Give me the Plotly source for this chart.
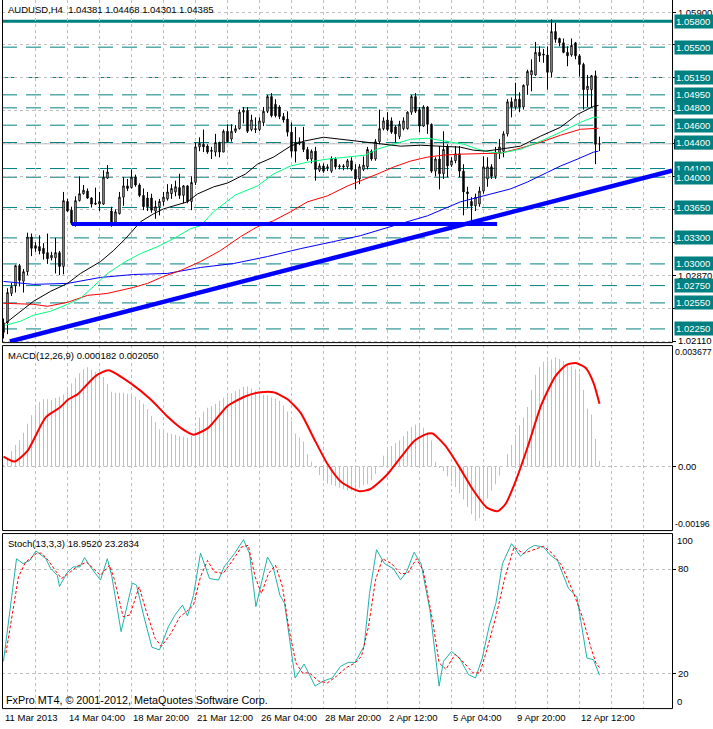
import plotly.graph_objects as go

W, H = 713, 729
FONT = "Liberation Sans"

# ---------------- data ----------------
bars = list(range(150))
opens = [1.0232,1.0232,1.0266,1.0275,1.0298,1.0280,1.0291,1.0331,1.0321,1.0320,
         1.0318,1.0313,1.0307,1.0307,1.0313,1.0297,1.0372,1.0362,1.0346,1.0373,
         1.0381,1.0384,1.0376,1.0370,1.0369,1.0369,1.0399,1.0361,1.0348,1.0358,
         1.0377,1.0390,1.0388,1.0400,1.0391,1.0379,1.0376,1.0376,1.0361,1.0366,
         1.0372,1.0375,1.0381,1.0383,1.0388,1.0379,1.0390,1.0372,1.0394,1.0435,
         1.0438,1.0436,1.0431,1.0429,1.0440,1.0429,1.0453,1.0444,1.0453,1.0456,
         1.0475,1.0477,1.0455,1.0456,1.0455,1.0463,1.0476,1.0493,1.0484,1.0481,
         1.0470,1.0467,1.0452,1.0440,1.0439,1.0440,1.0432,1.0421,1.0430,1.0408,
         1.0413,1.0412,1.0407,1.0421,1.0412,1.0413,1.0412,1.0419,1.0409,1.0398,
         1.0409,1.0412,1.0430,1.0421,1.0441,1.0456,1.0466,1.0465,1.0458,1.0447,
         1.0456,1.0456,1.0475,1.0493,1.0478,1.0459,1.0481,1.0461,1.0407,1.0421,
         1.0404,1.0435,1.0414,1.0419,1.0427,1.0407,1.0383,1.0372,1.0367,1.0369,
         1.0384,1.0398,1.0412,1.0401,1.0428,1.0430,1.0450,1.0487,1.0481,1.0490,
         1.0481,1.0506,1.0518,1.0518,1.0544,1.0542,1.0541,1.0521,1.0568,1.0560,
         1.0555,1.0544,1.0541,1.0555,1.0540,1.0530,1.0501,1.0501,1.0517,1.04381]
highs = [1.0237,1.0272,1.0278,1.0299,1.0300,1.0294,1.0336,1.0335,1.0325,1.0333,
         1.0324,1.0335,1.0314,1.0330,1.0315,1.0383,1.0375,1.0366,1.0378,1.0401,
         1.0391,1.0387,1.0377,1.0388,1.0383,1.0408,1.0414,1.0366,1.0363,1.0383,
         1.0400,1.0398,1.0409,1.0403,1.0393,1.0387,1.0383,1.0381,1.0373,1.0375,
         1.0383,1.0392,1.0392,1.0396,1.0404,1.0391,1.0391,1.0401,1.0440,1.0446,
         1.0455,1.0438,1.0435,1.0450,1.0441,1.0455,1.0461,1.0461,1.0460,1.0478,
         1.0481,1.0481,1.0472,1.0469,1.0469,1.0481,1.0495,1.0497,1.0490,1.0483,
         1.0474,1.0476,1.0463,1.0458,1.0446,1.0458,1.0435,1.0432,1.0435,1.0416,
         1.0416,1.0415,1.0424,1.0423,1.0415,1.0415,1.0421,1.0423,1.0415,1.0415,
         1.0424,1.0435,1.0432,1.0444,1.0478,1.0469,1.0475,1.0469,1.0460,1.0465,
         1.0469,1.0476,1.0495,1.0497,1.0481,1.0483,1.0482,1.0462,1.0423,1.0436,
         1.0453,1.0438,1.0423,1.0436,1.0436,1.0415,1.0389,1.0377,1.0381,1.0389,
         1.0424,1.0423,1.0415,1.0435,1.0444,1.0453,1.0490,1.0492,1.0509,1.0498,
         1.0507,1.0524,1.0536,1.0556,1.0551,1.0548,1.0551,1.0582,1.0578,1.0561,
         1.0560,1.0551,1.0560,1.0556,1.0542,1.0532,1.0518,1.0518,1.0523,1.04468]
lows = [1.0214,1.0219,1.0263,1.0267,1.0274,1.0267,1.0287,1.0309,1.0314,1.0311,
        1.0305,1.0300,1.0304,1.0289,1.0287,1.0288,1.0360,1.0345,1.0343,1.0372,
        1.0380,1.0375,1.0365,1.0368,1.0361,1.0368,1.0398,1.0343,1.0345,1.0357,
        1.0367,1.0384,1.0387,1.0389,1.0377,1.0362,1.0361,1.0359,1.0352,1.0356,
        1.0367,1.0373,1.0375,1.0378,1.0375,1.0370,1.0370,1.0362,1.0391,1.0430,
        1.0429,1.0427,1.0421,1.0424,1.0423,1.0429,1.0440,1.0441,1.0451,1.0455,
        1.0462,1.0451,1.0453,1.0451,1.0453,1.0459,1.0474,1.0469,1.0469,1.0467,
        1.0463,1.0447,1.0423,1.0417,1.0437,1.0429,1.0419,1.0416,1.0396,1.0406,
        1.0405,1.0407,1.0405,1.0409,1.0409,1.0408,1.0409,1.0407,1.0386,1.0392,
        1.0407,1.0409,1.0419,1.0419,1.0438,1.0454,1.0453,1.0450,1.0440,1.0444,
        1.0454,1.0455,1.0472,1.0474,1.0452,1.0458,1.0450,1.0405,1.0401,1.0386,
        1.0398,1.0400,1.0412,1.0416,1.0400,1.0356,1.0364,1.0349,1.0361,1.0366,
        1.0381,1.0389,1.0398,1.0398,1.0421,1.0423,1.0447,1.0469,1.0478,1.0475,
        1.0478,1.0495,1.0499,1.0517,1.0533,1.0532,1.0501,1.0515,1.0555,1.0551,
        1.0543,1.0528,1.0539,1.0536,1.0516,1.0478,1.0481,1.0481,1.0415,1.04301]
closes = [1.0221,1.0267,1.0274,1.0298,1.0281,1.0291,1.0331,1.0318,1.0318,1.0315,
          1.0312,1.0306,1.0310,1.0313,1.0297,1.0373,1.0361,1.0347,1.0373,1.0381,
          1.0385,1.0376,1.0369,1.0369,1.0372,1.0400,1.0406,1.0345,1.0360,1.0377,
          1.0390,1.0387,1.0400,1.0391,1.0379,1.0366,1.0366,1.0362,1.0366,1.0372,
          1.0377,1.0383,1.0387,1.0389,1.0379,1.0390,1.0372,1.0394,1.0435,1.0439,
          1.0435,1.0429,1.0430,1.0440,1.0429,1.0453,1.0441,1.0453,1.0456,1.0475,
          1.0477,1.0453,1.0466,1.0455,1.0465,1.0476,1.0493,1.0471,1.0471,1.0470,
          1.0466,1.0452,1.0430,1.0430,1.0441,1.0432,1.0421,1.0430,1.0409,1.0413,
          1.0407,1.0411,1.0421,1.0412,1.0413,1.0412,1.0419,1.0409,1.0398,1.0412,
          1.0414,1.0432,1.0421,1.0441,1.0456,1.0465,1.0455,1.0452,1.0450,1.0461,
          1.0465,1.0475,1.0493,1.0476,1.0459,1.0481,1.0461,1.0407,1.0421,1.0404,
          1.0432,1.0413,1.0419,1.0427,1.0407,1.0383,1.0381,1.0367,1.0377,1.0384,
          1.0412,1.0412,1.0401,1.0429,1.0435,1.0450,1.0487,1.0481,1.0490,1.0481,
          1.0506,1.0522,1.0523,1.0544,1.0540,1.0541,1.0521,1.0568,1.0559,1.0555,
          1.0544,1.0540,1.0552,1.0540,1.0530,1.0501,1.0505,1.0517,1.0438,1.04385]

ma_black_idx = [0.5,4.25,7.5,11.75,16,19.25,24.25,27.5,30.5,34.25,37.5,40,46,48.5,52.5,56,60.5,63.5,67.5,71.75,
                75,80,84.25,88.5,94.25,99.25,104.25,109.25,114.25,117.5,120.5,124.25,129.25,134.25,139.25,143.5,147.5,148.75]
ma_black_val = [1.02316,1.02454,1.02569,1.02683,1.02775,1.02890,1.03027,1.03154,1.03291,1.03486,1.03578,1.03635,
                1.03716,1.03807,1.03888,1.03933,1.04037,1.04151,1.04232,1.04358,1.04415,1.04461,1.04438,1.04415,
                1.04381,1.04358,1.04369,1.04358,1.04346,1.04312,1.04301,1.04324,1.04358,1.04473,1.04576,1.04725,
                1.04817,1.04828]
ma_green_idx = [0.5,4.25,7.5,11.75,16,19.25,22.5,26,30.5,34.25,38.5,42.5,46.75,49.25,52.5,58,63.5,67.5,71.75,76,
                81,86,90.5,93.5,97.5,101.75,106,111,115,118.5,121.75,124.25,129.25,134.25,139.25,144.25,147.5,148.75]
ma_green_val = [1.02293,1.02339,1.02408,1.02454,1.02534,1.02603,1.02740,1.02890,1.03027,1.03119,1.03199,1.03291,
                1.03406,1.03440,1.03601,1.03796,1.03899,1.04037,1.04129,1.04174,1.04209,1.04232,1.04255,1.04324,
                1.04381,1.04438,1.04450,1.04415,1.04381,1.04324,1.04289,1.04278,1.04324,1.04415,1.04519,1.04633,
                1.04691,1.04691]
ma_red_idx = [0,7.5,11,16,21,26,32.5,36,40,44.25,49.25,54.25,59.25,63.5,67.5,71.75,76,81,86,89.25,93.5,97.5,
              101.75,106,110,114.25,120.5,124.25,129.25,134.25,139.25,144.25,148.75]
ma_red_val = [1.02546,1.02534,1.02511,1.02557,1.02637,1.02660,1.02729,1.02775,1.02855,1.02924,1.03027,1.03154,
              1.03314,1.03429,1.03498,1.03601,1.03716,1.03785,1.03899,1.03956,1.04037,1.04117,1.04186,1.04232,
              1.04255,1.04266,1.04278,1.04278,1.04335,1.04404,1.04484,1.04553,1.04564]
ma_blue_idx = [0,7.5,16,24.25,32.5,41,49.25,57.5,66,74.25,82.5,89.25,97.5,106,114.25,122.5,126.75,131,135,139.25,
               143.5,147.5,148.75]
ma_blue_val = [1.02798,1.02764,1.02775,1.02844,1.02878,1.02890,1.02959,1.03004,1.03085,1.03176,1.03257,1.03326,
               1.03440,1.03555,1.03716,1.03819,1.03865,1.03945,1.04037,1.04129,1.04209,1.04289,1.04301]

trend_x = [1.6, 167.12]
trend_y = [1.02106, 1.04075]
support_x = [17.1, 123.4]
support_y = [1.0346, 1.0346]

level_vals = [1.0580,1.0550,1.0515,1.0495,1.0480,1.0460,1.0440,1.0410,1.0400,1.0365,1.0330,1.0300,1.0275,1.0255,1.0225]
level_text = ["1.05800","1.05500","1.05150","1.04950","1.04800","1.04600","1.04400","1.04100","1.04000",
              "1.03650","1.03300","1.03000","1.02750","1.02550","1.02250"]
bid_price = 1.04385

price_ticks = [1.0211,1.0249,1.0287,1.0325,1.0363,1.0401,1.0439,1.0477,1.0515,1.0553,1.0590]
# labels that sit under a level box are hidden in the original, so they are left blank here
price_tick_text = ["1.02110","","1.02870","","","","","","","","1.05900"]

macd_hist = [0.00003,0.00025,0.00050,0.00070,0.00085,0.00110,0.00140,0.00168,0.00190,0.00212,
             0.00220,0.00220,0.00218,0.00224,0.00228,0.00236,0.00252,0.00272,0.00290,0.00305,
             0.00318,0.00325,0.00317,0.00310,0.00303,0.00293,0.00270,0.00245,0.00241,0.00241,
             0.00241,0.00238,0.00240,0.00228,0.00218,0.00205,0.00188,0.00165,0.00145,0.00122,
             0.00115,0.00110,0.00107,0.00104,0.00100,0.00097,0.00094,0.00100,0.00125,0.00160,
             0.00180,0.00192,0.00198,0.00205,0.00215,0.00225,0.00230,0.00240,0.00247,0.00253,
             0.00260,0.00262,0.00255,0.00248,0.00241,0.00235,0.00232,0.00226,0.00222,0.00215,
             0.00200,0.00180,0.00150,0.00108,0.00095,0.00082,0.00040,0.00015,-0.00005,-0.00028,
             -0.00047,-0.00057,-0.00060,-0.00064,-0.00070,-0.00075,-0.00079,-0.00080,-0.00079,-0.00070,
             -0.00062,-0.00058,-0.00045,-0.00025,-0.00002,0.00035,0.00055,0.00067,0.00077,0.00086,
             0.00100,0.00115,0.00130,0.00137,0.00135,0.00127,0.00112,0.00085,0.00015,-0.00005,
             -0.00015,-0.00032,-0.00050,-0.00068,-0.00088,-0.00108,-0.00133,-0.00157,-0.00178,-0.00170,
             -0.00130,-0.00105,-0.00080,-0.00058,-0.00030,0.00000,0.00040,0.00070,0.00105,0.00135,
             0.00160,0.00195,0.00250,0.00300,0.00325,0.00343,0.00347,0.00350,0.00358,0.00352,
             0.00345,0.00335,0.00327,0.00318,0.00305,0.00250,0.00190,0.00170,0.00090,0.000182]
macd_sig_idx = [0,2.75,6,10.5,14,16.25,18.5,23,26.25,32.25,36.75,41.25,44.75,47.5,51.25,56,60.5,64.25,67.5,71,
                74.25,77.5,81,84.5,89,91.75,95.75,99.25,102.75,105.5,107.25,110.5,114,117.5,120.75,123.5,
                125.5,127.75,131,134.5,138,140.75,143,145.5,147.5,149]
macd_sig_val = [0.00032,0.00016,0.00051,0.00160,0.00192,0.00220,0.00236,0.00296,0.00315,0.00268,0.00220,0.00160,
                0.00122,0.00104,0.00127,0.00198,0.00230,0.00243,0.00243,0.00220,0.00176,0.00094,0.00008,
                -0.00052,-0.00081,-0.00074,-0.00029,0.00029,0.00084,0.00105,0.00108,0.00067,-0.00003,
                -0.00079,-0.00134,-0.00147,-0.00123,-0.00058,0.00062,0.00203,0.00296,0.00333,0.00339,
                0.00323,0.00274,0.00205]

stoch_idx = [0,3.25,4.9,6.6,8.1,10.6,11.75,13.45,14,15.75,17.4,19.1,20.25,22,24.25,25.95,27.1,29.4,32.2,33.25,
             35,37.1,39,41.25,43,44.75,46,47.5,49.25,51.5,53.75,55.15,57.75,60,61.5,63.1,66,67.4,69.1,70.25,
             72.9,75.15,77.9,79.9,82.2,84.25,86.2,87.9,90.15,91.5,93.25,95.25,97.5,99.25,100.75,102.65,104.4,
             106.6,108.9,110,112,114,116.25,118,119.7,121.4,123.1,124.75,127,129.25,131.25,132.75,135,136.75,
             138.5,141.25,143.35,145.85,147.5,149]
stoch_val = [26.9,86,83.2,85,90.5,86,80.5,76.5,70,77.5,81.3,81.3,86.7,80.5,73.7,86,75.6,44,72,70.8,
             53.6,35,33.5,47,54,59.3,53,65,89.3,74.6,73.7,81.3,89,97,89,58.4,87,81.3,65,60.3,
             17.3,25.3,12.6,15.5,17.3,24,26.3,26.3,35.6,65.9,91.2,83.2,80.2,73.9,78.3,89.7,83,
             56.5,12.6,26.9,32.6,28.8,19.2,17.3,28.8,47,60.3,83.2,94.7,87.4,91.8,93.7,92.7,88,
             85,68.9,64.1,28.8,27.8,18.95]
stoch_sig_idx = [0.6,3.75,5.5,8.25,9.5,11.2,12.9,14.5,16.25,18.5,20.75,22.5,24.25,26.5,27.65,29.9,31.6,33.9,35.6,
                 37.9,39.5,41.9,44.1,45.75,47.5,49.25,51,52.65,54.9,57.25,59.5,61.2,62.9,64.5,66.25,68,69.75,
                 71.4,73.1,74.75,76.5,78.75,81,83.25,85.6,87.9,89.5,91.25,93,94.75,97,99.25,101,103.25,104.9,
                 107.25,108.9,110.6,112.9,115.15,117.4,119.1,120.85,123.1,125.4,127.65,129.9,132.2,135,137.25,
                 139.5,142.4,144.7,147,148.1,149]
stoch_sig_val = [31.6,75.6,84,89,89.3,85,79.4,74.6,77.5,81.7,84,80.5,76.5,82.3,74.6,52.6,53.6,69.8,56.5,
                 40.2,35.5,43.1,52.6,55.5,59.3,75.6,85,78.5,77.5,85,92.8,93.7,75.6,66,77.5,82.3,69.8,
                 45,26,20.2,20.2,15.5,14.5,18.3,23.1,26,29.8,46.9,73.7,86,83.2,77.5,77.5,86,79.4,
                 50.7,26,22.3,30.9,26,20.2,20.2,33.6,52.6,75.6,92.8,89,90.9,93.2,89,82.3,67,
                 52.6,33.6,26,23.28]

date_tick_pos = [0, 16, 32, 48, 64, 80, 96, 112, 128, 144]
date_tick_text = ["11 Mar 2013", "14 Mar 04:00", "18 Mar 20:00", "21 Mar 12:00", "26 Mar 04:00",
                  "28 Mar 20:00", "2 Apr 12:00", "5 Apr 04:00", "9 Apr 20:00", "12 Apr 12:00"]

title_main = "AUDUSD,H4  1.04381 1.04468 1.04301 1.04385"
title_macd = "MACD(12,26,9) 0.000182 0.002050"
title_stoch = "Stoch(13,3,3) 18.9520 23.2834"
footer = "FxPro MT4, \u00a9 2001-2012, MetaQuotes Software Corp."

# ---------------- layout helpers ----------------
def fy(px):
    return 1 - px / H

def fx(px):
    return px / W

TEAL = "#008080"
GRID = "#C0C0C0"
XR = [-0.375, 167.125]
grid_x = list(range(8, 161, 8))

fig = go.Figure()

fig.add_trace(go.Candlestick(
    x=bars, open=opens, high=highs, low=lows, close=closes,
    increasing=dict(line=dict(color="black", width=1), fillcolor="white"),
    decreasing=dict(line=dict(color="black", width=1), fillcolor="black"),
    whiskerwidth=0, xaxis="x", yaxis="y", hoverinfo="skip"))

for xs, ys, col in [(ma_blue_idx, ma_blue_val, "#0000FF"), (ma_red_idx, ma_red_val, "#FF0000"),
                    (ma_green_idx, ma_green_val, "#00FF7F"), (ma_black_idx, ma_black_val, "#000000")]:
    fig.add_trace(go.Scatter(x=xs, y=ys, mode="lines", line=dict(color=col, width=1),
                             xaxis="x", yaxis="y", hoverinfo="skip"))

fig.add_trace(go.Scatter(x=trend_x, y=trend_y, mode="lines", line=dict(color="#0000FF", width=4.5),
                         xaxis="x", yaxis="y", hoverinfo="skip"))
fig.add_trace(go.Scatter(x=support_x, y=support_y, mode="lines", line=dict(color="#0000FF", width=4),
                         xaxis="x", yaxis="y", hoverinfo="skip"))

fig.add_trace(go.Bar(x=bars, y=macd_hist, width=0.25, marker=dict(color=GRID, line=dict(width=0)),
                     xaxis="x2", yaxis="y2", hoverinfo="skip"))
fig.add_trace(go.Scatter(x=macd_sig_idx, y=macd_sig_val, mode="lines",
                         line=dict(color="#FF0000", width=2, shape="spline", smoothing=0.6),
                         xaxis="x2", yaxis="y2", hoverinfo="skip"))

fig.add_trace(go.Scatter(x=stoch_idx, y=stoch_val, mode="lines", line=dict(color="#20B2AA", width=1),
                         xaxis="x3", yaxis="y3", hoverinfo="skip"))
fig.add_trace(go.Scatter(x=stoch_sig_idx, y=stoch_sig_val, mode="lines",
                         line=dict(color="#FF0000", width=1, dash="3px,2px"),
                         xaxis="x3", yaxis="y3", hoverinfo="skip"))

tickfont = dict(family=FONT, size=9.5, color="black")
xcommon = dict(domain=[fx(2), fx(672)], range=XR, showticklabels=False, ticks="", tickvals=grid_x,
               showgrid=True, gridcolor=GRID, griddash="3px,3px", gridwidth=1, zeroline=False,
               showline=False, fixedrange=True)
ycommon = dict(side="right", ticks="outside", ticklen=3, tickcolor="black", tickfont=tickfont,
               gridcolor=GRID, griddash="3px,3px", gridwidth=1, zeroline=False, showline=False,
               fixedrange=True)

fig.update_layout(
    width=W, height=H, autosize=False, showlegend=False,
    margin=dict(l=0, r=0, t=0, b=0, pad=0),
    paper_bgcolor="white", plot_bgcolor="white", boxgap=0.5,
    xaxis=dict(**xcommon, anchor="y", rangeslider=dict(visible=False)),
    xaxis2=dict(**xcommon, anchor="y2"),
    xaxis3=dict(**xcommon, anchor="y3"),
    yaxis=dict(**ycommon, domain=[fy(344), fy(0)], range=[1.02098, 1.06044], anchor="x",
               tickvals=price_ticks, ticktext=price_tick_text, showgrid=True),
    yaxis2=dict(**ycommon, domain=[fy(533), fy(347)], range=[-0.002085, 0.003975], anchor="x2",
                tickvals=[0], ticktext=["0.00"], showgrid=True),
    yaxis3=dict(**ycommon, domain=[fy(712), fy(536)], range=[-0.06, 100.8], anchor="x3",
                tickvals=[20, 80], ticktext=["20", "80"], showgrid=True),
)

shapes = []
for v in level_vals:
    solid = v == level_vals[0]
    shapes.append(dict(type="line", xref="x", yref="y", x0=XR[0], x1=XR[1], y0=v, y1=v, layer="below",
                       line=dict(color=TEAL, width=3 if solid else 1, dash="solid" if solid else "15px,9px")))
shapes.append(dict(type="line", xref="x", yref="y", x0=XR[0], x1=XR[1], y0=bid_price, y1=bid_price,
                   layer="below", line=dict(color=GRID, width=1)))
# current-price (bid) marker: black tag almost covered by the 1.04400 tag
shapes.append(dict(type="rect", xref="paper", yref="paper", x0=fx(674), x1=fx(713), y0=fy(150), y1=fy(140),
                   line=dict(width=0), fillcolor="black", layer="above"))

def frame(top, bottom, with_top=True):
    out = [dict(type="line", xref="paper", yref="paper", x0=fx(2.5), x1=fx(2.5), y0=fy(top), y1=fy(bottom)),
           dict(type="line", xref="paper", yref="paper", x0=fx(672.5), x1=fx(672.5), y0=fy(top), y1=fy(bottom)),
           dict(type="line", xref="paper", yref="paper", x0=fx(2.5), x1=fx(672.5), y0=fy(bottom), y1=fy(bottom))]
    if with_top:
        out.append(dict(type="line", xref="paper", yref="paper", x0=fx(2.5), x1=fx(672.5), y0=fy(top), y1=fy(top)))
    for s in out:
        s["line"] = dict(color="black", width=1)
        s["layer"] = "above"
    return out
shapes += frame(0, 344.5, with_top=False)
shapes += frame(347.5, 533.5)
shapes += frame(536.5, 712.5)
fig.update_layout(shapes=shapes)

ann = []
for v, t in zip(level_vals, level_text):
    ann.append(dict(xref="paper", yref="y", x=fx(674), y=v, xanchor="left", yanchor="middle",
                    text=t, showarrow=False, bgcolor=TEAL, borderpad=1, width=37, align="left",
                    font=dict(family=FONT, size=9.5, color="white")))
txt = dict(family=FONT, size=9.5, color="black")
ann.append(dict(xref="paper", yref="paper", x=fx(6), y=fy(10), xanchor="left", yanchor="middle",
                text=title_main, showarrow=False, font=txt))
ann.append(dict(xref="paper", yref="paper", x=fx(6), y=fy(357), xanchor="left", yanchor="middle",
                text=title_macd, showarrow=False, font=txt))
ann.append(dict(xref="paper", yref="paper", x=fx(6), y=fy(546), xanchor="left", yanchor="middle",
                text=title_stoch, showarrow=False, font=txt))
ann.append(dict(xref="paper", yref="paper", x=fx(4), y=fy(704), xanchor="left", yanchor="middle",
                text=footer, showarrow=False, font=dict(family=FONT, size=10.8, color="black")))
small = dict(family=FONT, size=8.8, color="black")
for lab, py in [("0.003677", 354), ("-0.00196", 527)]:
    ann.append(dict(xref="paper", yref="paper", x=fx(674), y=fy(py), xanchor="left", yanchor="middle",
                    text=lab, showarrow=False, font=small, borderpad=0))
for lab, py in [("100", 543), ("0", 705)]:
    ann.append(dict(xref="paper", yref="paper", x=fx(675), y=fy(py), xanchor="left", yanchor="middle",
                    text=lab, showarrow=False, font=txt))
for p, t in zip(date_tick_pos, date_tick_text):
    ann.append(dict(xref="x3", yref="paper", x=p, y=fy(721), xanchor="left", yanchor="middle",
                    text=t, showarrow=False, font=txt, borderpad=0))
fig.update_layout(annotations=ann)

fig.write_html("out.html", config={"displayModeBar": False},
               post_script="document.body.style.margin='0';document.body.style.overflow='hidden';")
